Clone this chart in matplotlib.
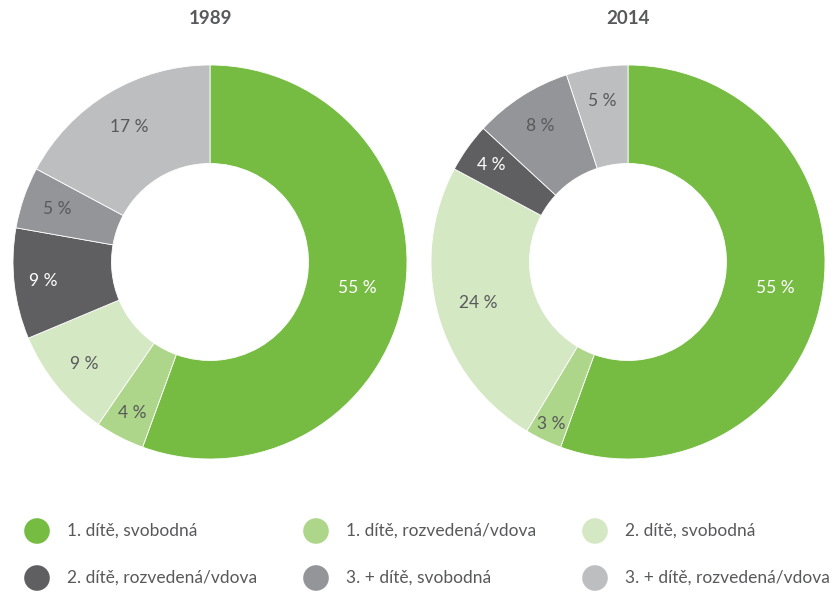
import numpy as np
import matplotlib.pyplot as plt

plt.rcParams['font.family'] = ['Lato', 'DejaVu Sans']

categories = [
    "1. dítě, svobodná",
    "1. dítě, rozvedená/vdova",
    "2. dítě, svobodná",
    "2. dítě, rozvedená/vdova",
    "3. + dítě, svobodná",
    "3. + dítě, rozvedená/vdova",
]
years = ["1989", "2014"]
values_1989 = [55, 4, 9, 9, 5, 17]
values_2014 = [55, 3, 24, 4, 8, 5]

colors = ["#76bc43", "#aed68a", "#d5e8c4", "#5f5f62", "#939598", "#bcbec0"]
label_colors = ["white", "#58595b", "#58595b", "white", "#58595b", "#58595b"]
text_gray = "#58595b"

# radial position of each percentage label (fraction of outer radius)
label_r = {
    "1989": [0.76, 0.86, 0.82, 0.85, 0.82, 0.80],
    "2014": [0.76, 0.91, 0.79, 0.85, 0.82, 0.83],
}

W, H = 839, 592
fig = plt.figure(figsize=(W / 100, H / 100), dpi=100)

R = 197
centers = [(210, 262), (628, 262)]

for (cx, cy), year, vals in zip(centers, years, [values_1989, values_2014]):
    ax = fig.add_axes([(cx - R) / W, (H - cy - R) / H, 2 * R / W, 2 * R / H])
    wedges, _ = ax.pie(
        vals, colors=colors, startangle=90, counterclock=False, radius=1,
        wedgeprops=dict(width=0.5, edgecolor="white", linewidth=0.6),
    )
    for w, v, c, r in zip(wedges, vals, label_colors, label_r[year]):
        ang = np.deg2rad((w.theta1 + w.theta2) / 2)
        ax.text(r * np.cos(ang), r * np.sin(ang), f"{v} %", ha="center", va="center",
                fontsize=12.5, color=c)
    ax.set_xlim(-1, 1)
    ax.set_ylim(-1, 1)
    ax.set_aspect("equal")
    ax.axis("off")
    fig.text(cx / W, 1 - 18 / H, year, ha="center", va="center",
             fontsize=13.5, fontweight="bold", color=text_gray)

# legend in pixel coordinates
lax = fig.add_axes([0, 0, 1, 1])
lax.set_xlim(0, W)
lax.set_ylim(H, 0)
lax.axis("off")
col_x = [37, 316, 595]
row_y = [531, 578]
for i, (cat, col) in enumerate(zip(categories, colors)):
    x = col_x[i % 3]
    y = row_y[i // 3]
    lax.scatter([x], [y], s=340, color=col, edgecolors="none")
    lax.text(x + 30, y, cat, ha="left", va="center", fontsize=12.5, color=text_gray)

fig.savefig("out.png", dpi=100)
